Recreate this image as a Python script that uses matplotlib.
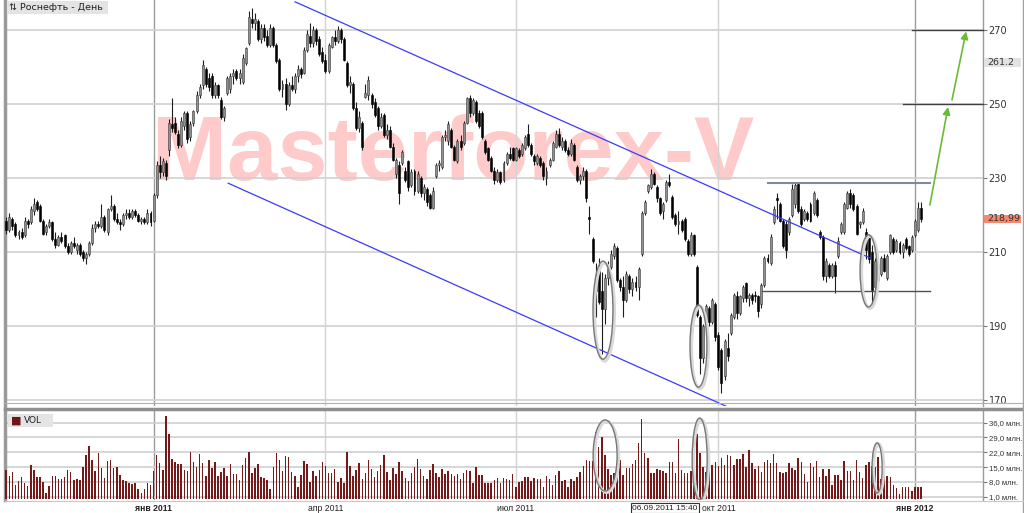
import numpy as np
import pandas as pd
import matplotlib
matplotlib.use("Agg")
import matplotlib.pyplot as plt
import matplotlib.transforms as mtransforms
from matplotlib.patches import Ellipse, Rectangle
from matplotlib.lines import Line2D

# daily candles, Rosneft, 26.10.2010 - 05.01.2012
opens = [
    218.5, 216.0, 219.0, 217.5, 214.5, 215.5, 214.5, 218.5, 218.0, 221.0,
    223.5, 222.5, 218.5, 215.5, 217.0, 218.0, 213.5, 212.0, 214.0, 214.5,
    211.5, 210.0, 212.5, 210.5, 212.0, 210.0, 208.5, 209.5, 212.5, 216.5,
    217.5, 217.0, 219.5, 215.5, 221.5, 222.5, 219.0, 218.0, 217.5, 220.0,
    220.5, 219.5, 221.0, 220.0, 218.5, 219.0, 218.0, 220.5,
    # 2011 jan-feb
    218.5, 225.5, 233.5, 231.5, 234.0, 237.5, 244.5, 245.0, 242.0, 239.0,
    244.0, 247.5, 241.0, 245.0, 248.0, 252.5, 255.0, 259.5, 257.0, 257.5,
    252.5, 255.0, 251.0, 246.5, 253.0, 254.0, 257.5, 259.0, 257.0, 256.0, 261.0,
    # mar
    266.5, 273.0, 272.0, 272.5, 267.5, 270.5, 268.5, 266.0, 270.5, 266.0,
    262.0, 254.0, 255.5, 250.0, 255.0, 254.0, 257.5, 259.5, 258.5, 264.5,
    268.5, 266.5, 270.0, 267.5, 264.0,
    # apr
    262.0, 259.0, 265.5, 268.0, 267.0, 270.0, 267.5, 261.0, 255.0, 255.5,
    249.0, 243.5, 245.0, 252.0, 252.5, 252.5, 250.5, 249.0, 244.0, 247.0, 241.5,
    # may
    243.0, 238.5, 231.0, 233.5, 234.0, 232.0, 234.5, 228.0, 232.0, 226.5,
    230.0, 226.0, 227.0, 225.5, 222.0, 230.5, 233.5, 233.0, 241.0, 240.0,
    # jun
    243.0, 238.5, 234.5, 240.0, 239.5, 245.0, 251.5, 247.5, 250.5, 247.5,
    247.5, 240.0, 238.0, 235.5, 232.0, 229.5, 231.5, 229.5, 234.0, 236.5, 238.0,
    # jul
    235.0, 237.5, 236.5, 238.0, 242.0, 239.0, 236.0, 234.0, 235.5, 234.0,
    230.0, 233.5, 235.0, 238.5, 242.0, 238.5, 240.0, 237.5, 236.5, 239.0, 233.0,
    # aug
    229.5, 230.5, 232.0, 219.5, 213.5, 199.5, 205.0, 199.5, 194.5, 203.0,
    206.0, 209.0, 211.0, 202.5, 200.5, 197.0, 203.5, 200.0, 202.0, 200.5,
    209.5, 220.5, 226.5,
    # sep
    227.5, 231.0, 227.5, 224.5, 221.0, 224.0, 229.0, 225.0, 220.0, 217.5,
    218.5, 219.0, 213.0, 209.5, 214.5, 206.0, 192.5, 181.5, 190.5, 195.0,
    191.0, 196.0,
    # oct
    187.5, 183.5, 176.5, 184.0, 188.0, 192.5, 198.0, 193.5, 197.5, 201.5,
    197.5, 198.5, 198.5, 198.0, 196.0, 201.0, 208.5, 207.0, 218.0, 224.5,
    223.0, 218.5,
    # nov
    217.5, 215.5, 220.0, 223.0, 228.5, 221.5, 219.0, 220.5, 223.0, 220.5,
    224.0, 215.5, 214.0, 203.5, 206.5, 203.5, 206.5, 209.0, 215.5, 215.5,
    # dec
    222.0, 226.0, 225.5, 222.5, 217.5, 218.0, 215.5, 214.0, 210.0, 200.5,
    206.5, 204.0, 208.5, 203.0, 210.0, 213.5, 210.5, 212.5, 210.0, 213.5,
    211.5, 210.5,
    # jan 2012
    214.5, 216.0, 222.0,
]
highs = [
    219.5, 220.5, 219.5, 218.0, 216.0, 216.5, 219.5, 219.0, 222.5, 224.5,
    224.0, 223.0, 219.0, 217.5, 219.0, 218.5, 215.5, 214.5, 215.5, 215.0,
    212.5, 213.0, 214.0, 212.5, 212.5, 210.5, 210.0, 213.0, 217.5, 218.5,
    218.5, 223.0, 220.0, 222.0, 225.5, 223.0, 220.5, 219.0, 220.5, 221.5,
    221.5, 221.5, 221.5, 220.5, 219.5, 219.5, 221.5, 221.0,
    226.0, 234.5, 236.0, 235.5, 235.0, 246.0, 251.5, 246.5, 243.0, 246.5,
    248.0, 248.0, 245.5, 248.5, 253.5, 255.5, 262.0, 260.0, 258.5, 258.5,
    256.0, 255.5, 252.0, 249.5, 257.5, 258.5, 259.5, 259.5, 259.5, 263.5, 265.5,
    275.0, 276.0, 274.5, 273.0, 271.5, 271.5, 270.0, 271.5, 271.0, 266.5,
    262.5, 256.5, 257.0, 256.0, 257.5, 258.5, 260.5, 260.0, 265.5, 270.0,
    272.0, 271.0, 270.5, 268.5, 265.5,
    263.5, 266.5, 268.5, 270.0, 271.0, 270.5, 268.0, 261.5, 257.5, 256.0,
    250.5, 248.0, 245.5, 255.5, 257.5, 253.0, 251.5, 249.5, 247.5, 247.5, 244.5,
    244.0, 239.5, 235.5, 234.5, 237.5, 233.0, 235.0, 232.5, 232.5, 232.0,
    230.5, 228.5, 227.5, 226.0, 227.5, 234.0, 235.0, 241.5, 243.0, 245.5,
    243.5, 239.0, 240.5, 241.5, 245.5, 252.0, 252.5, 251.5, 251.0, 248.5,
    248.0, 240.5, 238.5, 236.0, 233.0, 232.5, 232.0, 234.5, 237.0, 238.5, 238.5,
    238.5, 238.0, 239.5, 241.5, 244.5, 239.5, 236.5, 236.5, 236.0, 234.5,
    233.0, 235.5, 240.0, 243.0, 243.5, 241.0, 240.5, 238.5, 240.5, 239.5, 233.5,
    231.0, 233.0, 232.5, 222.5, 214.0, 207.0, 208.5, 204.5, 204.0, 207.5,
    210.5, 212.5, 211.5, 203.0, 203.5, 205.0, 204.0, 203.0, 203.5, 206.0,
    221.0, 224.0, 228.5,
    232.5, 231.5, 228.0, 225.0, 223.5, 229.5, 231.0, 225.5, 220.5, 221.0,
    219.0, 219.5, 213.5, 215.5, 215.0, 206.5, 193.0, 190.5, 196.0, 195.5,
    197.5, 196.5,
    188.5, 184.0, 186.5, 188.0, 193.5, 199.0, 199.5, 198.5, 201.0, 202.0,
    199.0, 199.0, 199.5, 198.5, 201.5, 209.0, 209.5, 215.0, 222.5, 226.0,
    223.5, 219.0,
    218.5, 219.5, 228.5, 229.0, 229.0, 222.5, 221.5, 221.0, 223.5, 226.5,
    224.5, 216.0, 214.5, 208.5, 207.0, 207.0, 207.5, 214.0, 218.0, 223.5,
    226.5, 227.0, 226.0, 223.0, 218.5, 222.0, 216.5, 215.0, 212.0, 208.5,
    207.5, 209.0, 209.5, 209.5, 215.0, 214.0, 213.5, 213.0, 212.5, 214.0,
    212.0, 214.5,
    219.0, 223.5, 223.5,
]
lows = [
    215.0, 215.5, 216.0, 214.0, 213.5, 213.5, 214.0, 216.5, 217.5, 220.0,
    221.0, 218.0, 214.5, 214.5, 216.5, 213.0, 211.0, 211.5, 212.5, 211.0,
    209.5, 209.5, 211.0, 209.5, 209.0, 207.5, 206.8, 209.0, 212.0, 215.5,
    216.5, 216.5, 215.5, 214.5, 221.0, 218.5, 217.5, 216.0, 217.0, 219.0,
    219.0, 219.0, 219.5, 218.0, 217.5, 217.5, 217.5, 217.0,
    218.0, 224.5, 230.0, 230.5, 229.5, 236.0, 242.5, 242.0, 238.0, 238.5,
    243.0, 239.5, 240.0, 244.0, 247.5, 251.5, 254.0, 254.5, 253.5, 251.5,
    251.5, 251.5, 246.0, 245.5, 252.5, 253.0, 255.5, 256.5, 255.5, 255.5, 260.5,
    266.0, 270.5, 270.0, 267.0, 266.5, 267.0, 265.5, 265.5, 265.5, 261.0,
    253.5, 252.0, 248.5, 249.5, 253.5, 253.0, 256.0, 257.0, 258.0, 264.0,
    265.5, 265.5, 266.0, 263.0, 261.0,
    258.5, 258.5, 265.0, 266.0, 266.5, 266.5, 261.5, 254.5, 253.0, 248.5,
    243.0, 242.5, 237.5, 251.5, 251.0, 249.0, 246.5, 243.0, 243.5, 241.0, 240.5,
    238.0, 234.5, 230.0, 223.0, 233.5, 229.0, 226.5, 227.5, 225.5, 226.0,
    225.0, 224.0, 222.5, 221.5, 221.5, 230.0, 232.0, 232.5, 240.0, 239.0,
    238.0, 234.5, 234.0, 237.5, 239.0, 244.5, 246.5, 247.0, 245.0, 243.5,
    240.5, 236.5, 234.5, 231.5, 228.5, 229.0, 228.5, 229.0, 233.5, 235.0, 234.5,
    234.5, 235.5, 236.0, 237.5, 238.5, 236.0, 233.5, 233.5, 233.0, 229.5,
    228.0, 233.0, 234.5, 238.0, 238.5, 237.5, 237.0, 236.0, 236.0, 234.5, 229.0,
    228.5, 229.5, 223.5, 215.0, 207.0, 192.5, 196.0, 182.5, 190.5, 201.0,
    205.5, 208.0, 202.0, 199.5, 192.5, 196.5, 199.0, 198.0, 199.5, 197.0,
    209.0, 220.0, 226.0,
    227.0, 228.0, 223.5, 220.0, 219.0, 223.5, 227.5, 219.0, 217.0, 215.0,
    215.5, 213.0, 209.0, 209.0, 209.0, 192.5, 177.0, 180.0, 190.0, 190.0,
    190.5, 186.0,
    178.0, 171.8, 175.5, 180.5, 187.5, 192.0, 192.0, 193.0, 196.5, 196.5,
    195.5, 196.0, 196.5, 192.5, 195.0, 200.5, 207.0, 206.5, 217.5, 219.0,
    218.0, 211.0,
    208.5, 214.5, 219.5, 222.0, 220.5, 217.0, 218.5, 218.5, 218.0, 220.0,
    219.5, 213.5, 202.5, 202.0, 203.0, 203.0, 198.8, 208.5, 215.0, 215.0,
    221.5, 222.0, 221.0, 214.5, 216.5, 217.5, 208.0, 207.0, 195.2, 199.5,
    201.5, 203.5, 204.5, 202.5, 209.5, 209.5, 210.0, 209.5, 208.5, 210.5,
    209.0, 210.0,
    214.0, 215.5, 218.0,
]
closes = [
    216.0, 219.5, 217.0, 214.5, 215.5, 214.0, 218.5, 217.5, 221.5, 223.0,
    221.5, 218.5, 215.0, 217.0, 218.0, 213.5, 212.0, 214.0, 213.0, 211.5,
    210.0, 212.5, 211.5, 212.0, 209.5, 208.5, 209.5, 212.5, 216.5, 217.5,
    217.0, 219.5, 216.0, 221.5, 222.5, 219.0, 218.0, 217.5, 220.0, 220.5,
    219.5, 221.0, 220.0, 218.5, 219.0, 218.0, 220.5, 218.0,
    225.5, 233.5, 231.5, 234.5, 230.5, 245.0, 243.5, 242.5, 239.0, 245.5,
    247.5, 240.5, 244.5, 248.0, 252.5, 254.5, 260.5, 255.5, 254.5, 252.5,
    255.0, 252.5, 246.5, 249.0, 257.0, 257.5, 258.5, 257.0, 258.5, 262.5, 265.0,
    273.5, 272.0, 273.0, 267.5, 270.5, 268.0, 266.0, 270.5, 266.0, 261.5,
    254.0, 255.5, 250.0, 255.0, 254.0, 257.5, 259.5, 258.0, 264.5, 269.0,
    266.5, 270.0, 267.0, 263.5, 261.5,
    259.0, 266.0, 268.0, 267.0, 270.0, 267.5, 262.0, 255.0, 256.0, 249.0,
    243.5, 246.5, 238.5, 253.0, 256.5, 250.0, 247.0, 244.0, 246.5, 241.5, 243.0,
    238.5, 235.0, 235.0, 226.0, 237.0, 229.5, 227.5, 231.5, 226.5, 231.0,
    226.0, 227.5, 223.5, 222.0, 226.5, 233.5, 234.0, 241.0, 241.5, 244.5,
    238.5, 235.0, 240.0, 238.5, 245.0, 251.5, 247.5, 251.0, 245.5, 244.0,
    241.0, 237.0, 235.0, 232.0, 229.5, 231.5, 229.0, 234.0, 236.5, 235.5, 235.0,
    238.0, 236.0, 239.0, 241.0, 239.0, 236.5, 234.5, 236.0, 233.5, 230.5,
    232.0, 235.0, 239.5, 242.0, 239.0, 240.0, 237.5, 236.5, 239.5, 235.0, 229.5,
    230.5, 232.0, 224.5, 219.0, 207.5, 203.0, 196.5, 194.5, 203.0, 206.0,
    209.5, 211.5, 202.5, 200.5, 197.0, 204.0, 200.0, 202.0, 200.5, 205.5,
    220.5, 223.5, 228.0,
    231.0, 228.5, 224.5, 220.5, 223.0, 229.0, 228.0, 219.5, 217.5, 218.5,
    216.0, 213.5, 209.5, 214.5, 209.5, 193.0, 181.5, 190.0, 195.5, 191.0,
    197.0, 187.0,
    179.0, 174.5, 186.0, 182.0, 193.0, 198.5, 193.5, 198.0, 200.5, 197.5,
    198.5, 197.0, 198.0, 194.0, 201.0, 208.5, 207.5, 214.0, 221.5, 224.0,
    218.5, 211.5,
    210.5, 219.0, 227.0, 228.0, 221.0, 217.5, 221.0, 219.0, 218.5, 226.0,
    220.0, 214.0, 203.5, 207.5, 203.5, 206.5, 203.5, 213.0, 217.5, 223.0,
    226.0, 223.0, 221.5, 215.0, 218.0, 221.0, 210.5, 208.0, 199.7, 207.5,
    202.5, 208.5, 205.0, 209.0, 214.5, 210.0, 213.0, 210.0, 212.0, 211.0,
    209.5, 214.0,
    218.5, 222.0, 218.99,
]
# volume, mln shares
volumes = [
    13.6, 10.8, 12.8, 6.5, 8.6, 10.1, 7.3, 6.2, 16.0, 13.4,
    10.3, 10.4, 8.1, 2.7, 6.2, 10.9, 10.8, 9.3, 9.2, 10.3,
    13.6, 12.8, 8.9, 9.2, 8.9, 15.2, 20.7, 25.0, 18.3, 13.1,
    21.5, 14.4, 9.7, 17.9, 18.3, 14.4, 14.9, 11.2, 8.9, 8.4,
    7.5, 7.1, 7.3, 4.5, 2.9, 4.5, 7.3, 6.5,
    13.1, 20.7, 16.8, 13.6, 39.2, 30.6, 19.0, 17.5, 16.4, 16.3,
    13.6, 13.1, 22.3, 17.5, 14.9, 21.2, 16.8, 10.9, 18.3, 14.7,
    17.5, 10.8, 12.8, 14.7, 10.8, 16.3, 11.7, 11.5, 8.9, 16.0,
    19.1, 22.3, 12.2, 14.4, 16.4, 10.4, 9.7, 8.9, 4.5, 14.9,
    21.5, 18.3, 13.3, 20.2, 19.9, 12.8, 10.8, 5.4, 11.2, 17.9,
    16.3, 8.1, 13.1, 10.8, 13.6, 17.2, 15.7, 12.0, 12.0, 14.1,
    8.1, 10.0, 7.3, 22.0,
    15.5, 11.0, 13.5, 17.0, 9.5, 12.0, 18.5, 14.0, 10.5, 13.0,
    16.0, 20.5, 12.5, 9.0, 14.5, 11.5, 17.5, 13.0, 10.0, 8.5,
    12.0, 15.0, 19.0, 14.0, 11.0, 9.5, 13.5, 16.5, 12.0, 10.5,
    14.0, 11.5, 13.0,
    11.7, 10.8, 11.7, 9.2, 12.0, 13.6, 13.3, 7.6, 14.9,
    11.4, 11.2, 7.6, 7.6, 7.6, 8.9, 10.0, 7.6, 10.0, 9.3,
    8.9, 11.5, 5.4, 8.1, 8.4, 10.4, 10.4, 8.4, 9.7, 9.3,
    9.3, 5.7, 10.8, 9.3, 6.5, 11.2, 13.3, 8.6, 8.9, 5.4,
    9.2, 8.6, 10.4, 12.8, 15.5, 18.3, 17.9, 18.0, 31.7, 24.6,
    29.1, 20.7, 13.9, 11.2, 12.3, 14.4, 18.3, 11.2, 14.4, 14.7,
    16.3, 18.3, 26.2, 37.6, 21.5, 19.1, 12.3, 12.3, 14.1, 13.6,
    13.1, 12.3, 17.2, 17.2, 12.3, 28.1, 13.6, 12.0, 12.3, 13.1,
    29.7, 30.5, 21.5, 14.9, 12.8, 16.0, 16.0, 17.5, 15.5, 19.1,
    16.0, 20.7, 20.2, 16.0, 18.7, 18.7, 21.2, 15.2, 23.0, 17.1,
    13.9, 15.5, 12.8, 17.5, 18.3, 17.1, 21.2, 16.8, 12.8,
    12.3, 12.8, 17.1, 14.4, 13.6, 19.1, 17.5, 11.7, 8.1, 17.1,
    15.2, 17.9, 10.4, 14.1, 10.8, 13.9, 6.5, 11.2, 11.2, 8.9,
    17.9, 13.3, 13.1, 8.9, 18.3, 12.8, 9.7, 16.0, 17.2, 15.5,
    15.2, 19.6, 9.2, 11.7, 10.8, 10.1, 6.5, 4.9, 2.1, 5.7,
    5.7, 5.4, 3.8, 5.4, 5.7, 5.7,
]

holidays = ["2010-11-04", "2011-01-03", "2011-01-04", "2011-01-05", "2011-01-06",
            "2011-01-07", "2011-01-10", "2011-02-23", "2011-03-08", "2011-05-02",
            "2011-05-09", "2011-06-13", "2011-11-04", "2012-01-02"]
quarter_months = [(2011, 1), (2011, 4), (2011, 7), (2011, 10), (2012, 1)]
month_names = {1: "янв", 4: "апр", 7: "июл", 10: "окт"}
price_ticks = [170, 190, 210, 230, 250, 270]
vol_ticks = [1, 8, 15, 22, 29, 36]
marked_prices = [(261.2, "261.2", "#e2e2e2"), (218.99, "218,99", "#f7876d")]

# drawn on top of the chart (trend lines, levels, arrows, ellipses)
upper_channel = ([94.1, 281.4], [277.6, 208.4])
lower_channel = ([72.3, 240.0], [228.6, 166.3])
levels = [(228.6, 248.2, 300.9, "#7d8c9b", 1.5),
          (199.5, 246.2, 300.9, "#505050", 1.0),
          (270.0, 295.1, 318.2, "#404040", 1.0),
          (250.0, 292.1, 318.2, "#404040", 1.0)]
arrows = [((300.9, 222.7), (306.8, 249.2)), ((308.1, 251.1), (312.7, 269.6))]
price_ellipses = [(194.4, 194.3, 6.5, 26.5), (225.5, 184.6, 5.5, 22.2), (280.9, 204.9, 5.5, 19.5)]
vol_ellipses = [(195.1, 20.5, 7.8, 33.6), (225.9, 18.8, 4.9, 38.8), (283.7, 14.6, 3.3, 23.7)]

n = len(closes)
days = pd.bdate_range("2010-10-26", "2012-02-10")
days = days[~days.isin(pd.to_datetime(holidays))][:n]
x = np.arange(n)
o = np.array(opens)
h = np.array(highs)
l = np.array(lows)
c = np.array(closes)

tick_pos, tick_lab = [], []
for yr, mo in quarter_months:
    idx = np.where((days.year == yr) & (days.month == mo))[0]
    if len(idx):
        tick_pos.append(idx[0])
        tick_lab.append(f"{month_names[mo]} {yr}")

W, H = 1024, 513
fig = plt.figure(figsize=(W / 100, H / 100), dpi=100)
ax = fig.add_axes([5 / W, 1 - 406 / H, 978 / W, 406 / H])
axv = fig.add_axes([5 / W, 1 - 500 / H, 978 / W, 90 / H])

for a in (ax, axv):
    a.set_xlim(-0.4, 318.2)
    a.set_facecolor("white")
    for s in ("top", "bottom"):
        a.spines[s].set_visible(False)
    a.spines["left"].set_color("#9a9a9a")
    a.spines["left"].set_linewidth(2.5)
    a.spines["right"].set_color("#9a9a9a")
    a.spines["right"].set_linewidth(1.0)
    for i, t in zip(tick_pos, tick_lab):
        a.axvline(i, color="#9c9c9c" if t.startswith("янв") else "#d2d2d2", lw=1.0, zorder=1)

ax.set_ylim(168.4, 278.1)
axv.set_ylim(-0.56, 42.0)

# watermark
ax.text(0.458, 0.557, "Masterforex-V", transform=ax.transAxes, fontsize=65,
        fontweight="bold", family="Liberation Sans", color="#ffcaca",
        ha="center", va="baseline", zorder=0.8)

for y in price_ticks:
    ax.axhline(y, color="#d0d0d0", lw=1.2, zorder=1)
for y in vol_ticks:
    axv.axhline(y, color="#d0d0d0", lw=1.2, zorder=1)

# candles
up = c >= o
bot = np.minimum(o, c)
hgt = np.maximum(np.abs(c - o), 0.3)
ax.vlines(x, l, h, color="#1e1e1e", lw=0.8, zorder=3)
ax.bar(x[up], hgt[up], bottom=bot[up], width=0.64, color="#8f8f8f",
       edgecolor="#3c3c3c", linewidth=0.4, zorder=4)
ax.bar(x[~up], hgt[~up], bottom=bot[~up], width=0.64, color="#000000",
       edgecolor="#000000", linewidth=0.4, zorder=4)

# volume
axv.bar(x, volumes, width=0.5, color="#741a1a", zorder=3)

# annotations
ax.plot(*upper_channel, color="#3a3aff", lw=0.9, zorder=5)
ax.plot(*lower_channel, color="#3a3aff", lw=0.9, zorder=5)
for yv, x0, x1, col, lw in levels:
    ax.plot([x0, x1], [yv, yv], color=col, lw=lw, zorder=5, clip_on=False)
for start, end in arrows:
    ax.annotate("", xy=end, xytext=start, annotation_clip=False,
                arrowprops=dict(arrowstyle="-|>", color="#6abb35", lw=1.2,
                                mutation_scale=11, shrinkA=0, shrinkB=0), zorder=6)
for a, ells in ((ax, price_ellipses), (axv, vol_ellipses)):
    for cx, cy, w, hh in ells:
        a.add_patch(Ellipse((cx + 0.5, cy - hh * 0.02), w, hh, fill=False,
                            ec="#d9d9d9", lw=2.2, zorder=5))
        a.add_patch(Ellipse((cx, cy), w, hh, fill=False, ec="#777777", lw=1.0, zorder=6))

# axes ticks
ax.set_xticks([])
ax.yaxis.tick_right()
ax.set_yticks(price_ticks)
ax.set_yticklabels([str(v) for v in price_ticks])
ax.tick_params(axis="y", length=3, width=0.8, color="#777777", labelsize=7,
               labelcolor="#333333", pad=1)
axv.yaxis.tick_right()
axv.set_yticks(vol_ticks)
axv.set_yticklabels([f"{v},0 млн." for v in vol_ticks], family="Liberation Sans")
axv.tick_params(axis="y", length=3, width=0.8, color="#777777", labelsize=5.6,
                labelcolor="#333333", pad=1)
axv.set_xticks(tick_pos)
axv.set_xticklabels(tick_lab, family="Liberation Sans")
axv.tick_params(axis="x", length=0, labelsize=6.2, labelcolor="#222222", pad=3)
for lab in axv.get_xticklabels():
    if lab.get_text().startswith("янв"):
        lab.set_fontweight("bold")

# price markers on the scale
blend = mtransforms.blended_transform_factory(ax.transAxes, ax.transData)
for pv, txt, col in marked_prices:
    ax.add_patch(Rectangle((1.001, pv - 1.15), 0.038, 2.3, transform=blend,
                           fc=col, ec="none", clip_on=False, zorder=6))
    ax.text(1.004, pv, txt, transform=blend, va="center", ha="left",
            fontsize=6.8, color="#333333", zorder=7)

# labels
ax.text(0.004, 0.982, "⇅ Роснефть - День ", transform=ax.transAxes, fontsize=6.8,
        va="center", ha="left", color="#222222",
        bbox=dict(fc="#e4e4e4", ec="none", pad=1.5), zorder=7)
axv.add_patch(Rectangle((0.003, 0.81), 0.046, 0.14, transform=axv.transAxes,
                        fc="#e4e4e4", ec="none", zorder=7))
axv.text(0.006, 0.88, "■", transform=axv.transAxes, fontsize=8, color="#6e1515",
         va="center", ha="left", zorder=8)
axv.text(0.019, 0.88, "VOL", transform=axv.transAxes, fontsize=6.5, color="#222222",
         va="center", ha="left", zorder=8)
fig.text(665 / W, 1 - 508 / H, "06.09.2011 15:40", fontsize=6.0, family="Liberation Sans",
         ha="center", va="center", color="#222222",
         bbox=dict(fc="white", ec="#333333", lw=0.8, pad=0.8))

# separator and frame
fig.add_artist(Line2D([5 / W, 1], [1 - 403 / H, 1 - 403 / H], color="#b0b0b0", lw=0.8))
fig.add_artist(Line2D([5 / W, 1], [1 - 408.5 / H, 1 - 408.5 / H], color="#8f8f8f", lw=2.5))
fig.add_artist(Line2D([1022.5 / W, 1022.5 / W], [0, 1], color="#a0a0a0", lw=1))
fig.add_artist(Line2D([5 / W, 1], [1 - 500.5 / H, 1 - 500.5 / H], color="#c8c8c8", lw=0.8))

fig.savefig("out.png", dpi=100)
